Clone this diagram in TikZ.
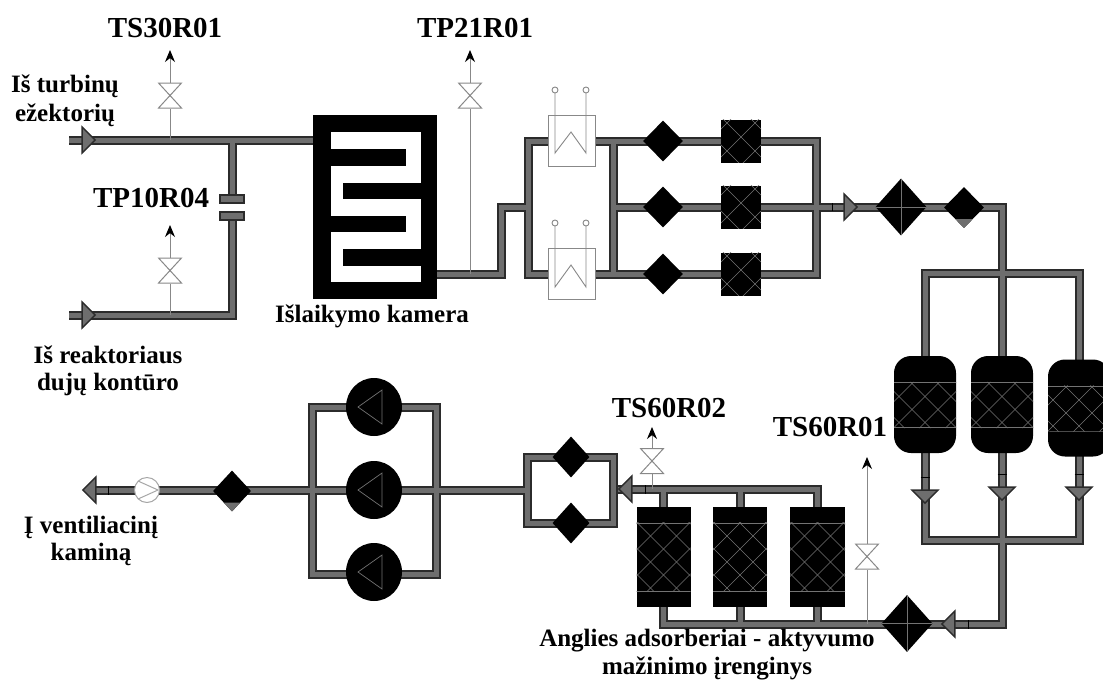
\documentclass[tikz,border=0pt]{standalone}
\usepackage{fontspec}
\setmainfont{Liberation Serif}
\usetikzlibrary{shapes.geometric,arrows.meta,backgrounds}
\definecolor{pipeedge}{HTML}{2B2B2B}
\definecolor{pipecore}{HTML}{6E6E6E}
\definecolor{thinline}{HTML}{888888}
\newcommand\latticelines[3]{
  \begin{scope}[shift={(path picture bounding box.center)}]
    \clip (-45,#1-0.6) rectangle (45,#2+0.6);
    \draw[latline] (-45,#1) -- (45,#1) (-45,#2) -- (45,#2);
    \foreach \k in {-12,...,12} {
      \draw[latline] (\k*#3,-60) -- ++(120,120) (\k*#3,-60) -- ++(-120,120);
    }
  \end{scope}}
\tikzset{
  pipe/.style={draw=pipeedge,line width=2pt,double=pipecore,double distance=5pt,line join=miter},
  sense/.style={draw=thinline,line width=1pt,-{Stealth[black,length=12pt,width=10pt]}},
  latline/.style={draw=white!45!black,line width=0.4pt},
  lbl/.style={font=\bfseries\fontsize{25}{27}\selectfont,align=center,inner sep=0pt},
  tag/.style={font=\bfseries\fontsize{29}{31}\selectfont,inner sep=0pt},
  valve/.style={minimum width=25pt,minimum height=26pt,inner sep=0pt,fill=white,
    path picture={\begin{scope}[shift={(path picture bounding box.center)}]
      \draw[thinline,line width=1pt] (-11.5,-12.5) -- (11.5,-12.5) -- (-11.5,12.5) -- (11.5,12.5) -- cycle;
    \end{scope}}},
  flowtip/.style={isosceles triangle,isosceles triangle stretches,fill=pipecore,draw=pipeedge,line width=1.4pt,
    minimum height=13pt,minimum width=26pt,inner sep=0pt,anchor=apex},
  plate/.style={rectangle,fill=pipecore,draw=pipeedge,line width=1.2pt,minimum width=24pt,minimum height=8pt,inner sep=0pt},
  blackdia/.style={diamond,fill=black,minimum width=40pt,minimum height=41pt,inner sep=0pt},
  greydia/.style={blackdia,path picture={\fill[pipecore] ([yshift=-11.5pt]path picture bounding box.center) rectangle
    ([xshift=-25pt,yshift=-25pt]path picture bounding box.center) ([yshift=-11.5pt]path picture bounding box.center) rectangle
    ([xshift=25pt,yshift=-25pt]path picture bounding box.center);}},
  bigdia/.style={diamond,fill=black,minimum width=51pt,minimum height=57pt,inner sep=0pt,
    path picture={\begin{scope}[shift={(path picture bounding box.center)}]
      \draw[latline] (-30,0) -- (30,0) (0,-30) -- (0,30);
    \end{scope}}},
  heater/.style={rectangle,fill=white,draw=thinline,line width=0.9pt,minimum width=47pt,minimum height=51pt,inner sep=0pt},
  square/.style={rectangle,fill=black,minimum width=40pt,minimum height=43pt,inner sep=0pt,
    path picture={\latticelines{-30}{30}{28}}},
  tank/.style={rectangle,rounded corners=17pt,fill=black,minimum width=62pt,minimum height=97pt,inner sep=0pt,
    path picture={\latticelines{-22}{23}{26}}},
  adsorber/.style={rectangle,fill=black,minimum width=54pt,minimum height=100pt,inner sep=0pt,
    path picture={\latticelines{-34}{34}{26}}},
  pump/.style={ellipse,fill=black,minimum width=56pt,minimum height=58pt,inner sep=0pt,
    path picture={\begin{scope}[shift={(path picture bounding box.center)}]
      \draw[latline,line width=0.7pt] (-16,0) -- (8,-17) -- (8,17) -- cycle;
    \end{scope}}},
  fan/.style={circle,fill=white,draw=white!65!black,line width=1pt,minimum size=25pt,inner sep=0pt,
    path picture={\begin{scope}[shift={(path picture bounding box.center)}]
      \draw[white!65!black,line width=1pt] (-9,-9) -- (11,0) -- (-9,9);
    \end{scope}}},
  tick/.style={draw=black,line width=1pt}
}
\begin{document}
\begin{tikzpicture}[x=1pt,y=-1pt]
  \clip (0,0) rectangle (1103,681);

  % upper left inlets
  \coordinate (inA) at (69,140);
  \coordinate (inB) at (69,315);
  \coordinate (teeA) at (232,140);
  \coordinate (teeB) at (170,140);
  \coordinate (teeC) at (170,315);
  \coordinate (tipA) at (170,50);
  \coordinate (tipB) at (170,225);
  \coordinate (tipC) at (470,50);
  \node[plate] (plateA) at (232,199) {};
  \node[plate] (plateB) at (232,216) {};
  \node[valve] (valveA) at (170,95.5) {};
  \node[valve] (valveB) at (170,270.5) {};
  \node[valve] (valveC) at (470,95.5) {};
  \node[flowtip] (arrowA) at (97,140) {};
  \node[flowtip] (arrowB) at (97,315) {};

  % holding chamber
  \node[rectangle,fill=black,minimum width=124pt,minimum height=184pt,inner sep=0pt] (chamber) at (375,207) {};
  \fill[white] (331,132) rectangle (421,282);
  \foreach \ya/\yb/\xa/\xb in {149/166/320/406,183/199/343/430,216/232/320/406,249/266/343/430} {
    \fill[black] (\xa,\ya) rectangle (\xb,\yb);
  }
  \coordinate (chamberIn) at (320,140);
  \coordinate (chamberOut) at (430,274);

  % stage with heaters and filters
  \coordinate (stepUp) at (501,207);
  \coordinate (stepIn) at (528,207);
  \coordinate (senseC) at (470,274);
  \coordinate (frameA) at (528,141);
  \coordinate (frameC) at (816,274);
  \coordinate (innerA) at (613,141);
  \coordinate (innerC) at (613,274);
  \coordinate (innerB) at (613,207);
  \coordinate (turnA) at (1002,207);
  \node[heater] (heatA) at (571.5,140.5) {};
  \node[heater] (heatB) at (571.5,273.5) {};
  \foreach \nm/\yy in {A/141,B/207,C/274} {
    \node[blackdia] (filt\nm) at (663,\yy) {};
    \node[square] (sorb\nm) at (741,\yy) {};
  }
  \foreach \yy/\yc/\yp in {90/153/132,223/287/265} {
    \draw[thinline,line width=0.9pt] (555,\yy+3) -- (555,\yc) -- (571,\yp) -- (586,\yc) -- (586,\yy+3);
    \draw[thinline,line width=0.9pt] (555,\yy) circle (3) (586,\yy) circle (3);
  }
  \node[flowtip] (arrowC) at (859,207) {};
  \node[bigdia] (bigA) at (901,207) {};
  \node[greydia] (greyA) at (964,207.5) {};

  % tanks
  \coordinate (colTop) at (1002,273);
  \coordinate (colLow) at (1002,540);
  \coordinate (turnB) at (1002,624);
  \node[tank] (tankA) at (925,404.5) {};
  \node[tank] (tankB) at (1002,404.5) {};
  \node[tank] (tankC) at (1079,408) {};
  \foreach \nm/\xx/\yy in {A/925/505,B/1002/502,C/1079/502} {
    \node[flowtip,shape border rotate=270] (down\nm) at (\xx,\yy) {};
    \draw[tick] (\xx-4.5,\yy-28) -- (\xx+4.5,\yy-28);
  }

  % adsorbers
  \node[bigdia] (bigB) at (907,623.5) {};
  \node[flowtip,shape border rotate=180] (arrowD) at (940,624) {};
  \draw[tick] (968,620) -- (968,629);
  \coordinate (busL) at (613,489);
  \coordinate (senseD) at (652,489);
  \coordinate (senseE) at (867,624);
  \coordinate (tipD) at (652,427);
  \coordinate (tipE) at (867,457);
  \node[adsorber] (adsA) at (663.5,557) {};
  \node[adsorber] (adsB) at (740,557) {};
  \node[adsorber,minimum width=55pt] (adsC) at (817.5,557) {};
  \node[valve] (valveD) at (652,461) {};
  \node[valve] (valveE) at (867,556.5) {};
  \node[flowtip,shape border rotate=180] (arrowE) at (617,489) {};

  % exit line
  \coordinate (loopA) at (527,457);
  \coordinate (loopB) at (613,523);
  \coordinate (mainR) at (527,490);
  \coordinate (mainL) at (90,490);
  \coordinate (pumpA) at (312,407);
  \coordinate (pumpB) at (436,574);
  \foreach \nm/\yy in {A/457,B/523} {
    \node[blackdia,minimum width=37pt] (loop\nm d) at (571,\yy) {};
  }
  \foreach \nm/\yy in {A/407,B/490,C/572} {
    \node[pump] (fan\nm) at (374,\yy) {};
  }
  \node[greydia,minimum width=38pt] (greyB) at (232,491) {};
  \node[fan] (blower) at (147,490) {};
  \node[flowtip,shape border rotate=180] (arrowF) at (81,490) {};

  \begin{scope}[on background layer]
    \draw[pipe] (inA) -- (chamberIn) (teeA) -- (plateA.center);
    \draw[pipe] (inB) -| (plateB.center);
    \draw[pipe] (chamberOut) -| (stepUp) -- (stepIn) (frameA) rectangle (frameC)
      (innerA) -- (innerC) (innerB) -- (turnA) |- (colTop)
      (tankA.center) |- (colTop) -| (tankC.center) (colTop) -- (tankB.center);
    \draw[pipe] (tankA.center) |- (colLow) -| (tankC.center) (tankB.center) -- (turnB)
      -- (adsA.center |- turnB) -- (adsA.center) (adsB.center) -- (adsB.center |- turnB)
      (adsC.center) -- (adsC.center |- turnB);
    \draw[pipe] (adsC.center) |- (busL) (adsA.center) -- (adsA.center |- busL)
      (adsB.center) -- (adsB.center |- busL);
    \draw[pipe] (loopA) rectangle (loopB) (mainR) -- (mainL) (pumpA) rectangle (pumpB);
    \draw[sense] (teeB) -- (tipA);
    \draw[sense] (teeC) -- (tipB);
    \draw[sense] (senseC) -- (tipC);
    \draw[sense] (senseD) -- (tipD);
    \draw[sense] (senseE) -- (tipE);
  \end{scope}
  \draw[tick] (832,203) -- (832,211);
  \draw[tick] (645,485) -- (645,494);
  \draw[tick] (108,486) -- (108,495);

  % labels
  \node[tag] (lblA) at (165,28) {TS30R01};
  \node[tag] (lblB) at (475,28) {TP21R01};
  \node[tag] (lblC) at (151,198) {TP10R04};
  \node[tag] (lblD) at (669,408) {TS60R02};
  \node[tag] (lblE) at (830,427) {TS60R01};
  \node[lbl] (txtA) at (65,86) {Iš turbinų};
  \node[lbl] (txtB) at (65,115) {ežektorių};
  \node[lbl] (txtC) at (372,316) {Išlaikymo kamera};
  \node[lbl] (txtD) at (108,355) {Iš reaktoriaus};
  \node[lbl] (txtE) at (108,384) {dujų kontūro};
  \node[lbl] (txtF) at (91,527) {Į ventiliacinį};
  \node[lbl] (txtG) at (91,554) {kaminą};
  \node[lbl] (txtH) at (707,641) {Anglies adsorberiai - aktyvumo};
  \node[lbl] (txtI) at (707,668.5) {mažinimo įrenginys};
\end{tikzpicture}
\end{document}
